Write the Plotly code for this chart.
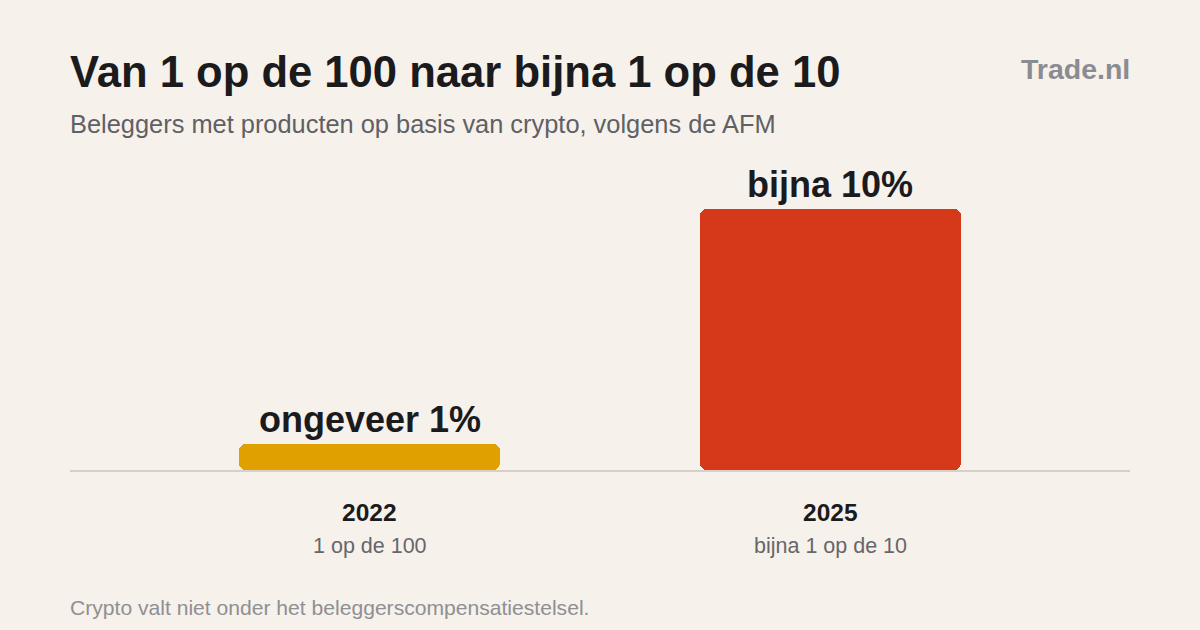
import plotly.graph_objects as go

# data
years = ["2022", "2025"]
ratios = ["1 op de 100", "bijna 1 op de 10"]
shares = [1, 10]  # procent beleggers met crypto-producten
value_labels = ["ongeveer 1%", "bijna 10%"]
bar_colors = ["#E0A000", "#D6391A"]

FONT = "Liberation Sans, Arial, Helvetica, sans-serif"
BG = "#F6F1EA"
xpos = list(range(len(years)))

fig = go.Figure()

# explicit base -> plotly rounds both ends of the bar
fig.add_trace(go.Bar(
    x=xpos, y=shares, base=[0] * len(shares),
    width=0.566, marker=dict(color=bar_colors, line=dict(width=0), cornerradius=7),
    hoverinfo="skip", showlegend=False,
))

annotations = []
for i, (yr, rt, v, lab) in enumerate(zip(years, ratios, shares, value_labels)):
    annotations.append(dict(
        x=i, y=v, xref="x", yref="y", text=f"<b>{lab}</b>", showarrow=False,
        yanchor="bottom", yshift=2, font=dict(family=FONT, size=36, color="#1b1b1d"),
    ))
    annotations.append(dict(
        x=i, y=-0.14, xref="x", yref="paper", text=f"<b>{yr}</b>", showarrow=False,
        yanchor="middle", font=dict(family=FONT, size=24.5, color="#1b1b1d"),
    ))
    annotations.append(dict(
        x=i, y=-0.253, xref="x", yref="paper", text=rt, showarrow=False,
        yanchor="middle", font=dict(family=FONT, size=21.5, color="#66666b"),
    ))

# title, subtitle, brand, footer
annotations += [
    dict(x=0, y=1.327, xref="paper", yref="paper", xanchor="left", yanchor="middle", xshift=-2,
         text="<b>Van 1 op de 100 naar bijna 1 op de 10</b>", showarrow=False,
         font=dict(family=FONT, size=43.6, color="#1b1b1d")),
    dict(x=0, y=1.153, xref="paper", yref="paper", xanchor="left", yanchor="middle", xshift=-2,
         text="Beleggers met producten op basis van crypto, volgens de AFM", showarrow=False,
         font=dict(family=FONT, size=25.4, color="#5f5f66")),
    dict(x=1, y=1.337, xref="paper", yref="paper", xanchor="right", yanchor="middle", xshift=2,
         text="<b>Trade.nl</b>", showarrow=False,
         font=dict(family=FONT, size=28.5, color="#8b8b92")),
    dict(x=0, y=-0.457, xref="paper", yref="paper", xanchor="left", yanchor="middle", xshift=-2,
         text="Crypto valt niet onder het beleggerscompensatiestelsel.", showarrow=False,
         font=dict(family=FONT, size=21.1, color="#8f8f94")),
]

fig.update_layout(
    width=1200, height=630,
    margin=dict(l=70, r=70, t=170, b=160),
    paper_bgcolor=BG, plot_bgcolor=BG,
    bargap=0,
    annotations=annotations,
    xaxis=dict(range=[-0.65, 1.65], showgrid=False, zeroline=False, showticklabels=False,
               ticks="", showline=True, linecolor="#D6D0C8", linewidth=2, layer="below traces",
               fixedrange=True),
    yaxis=dict(range=[0, 11.49], showgrid=False, zeroline=False, showticklabels=False,
               ticks="", showline=False, fixedrange=True),
)

# drop the default body margin so the figure fills the window
fig.write_html("out.html", config={"displayModeBar": False},
               post_script="document.body.style.margin='0';document.body.style.background='%s';" % BG)
